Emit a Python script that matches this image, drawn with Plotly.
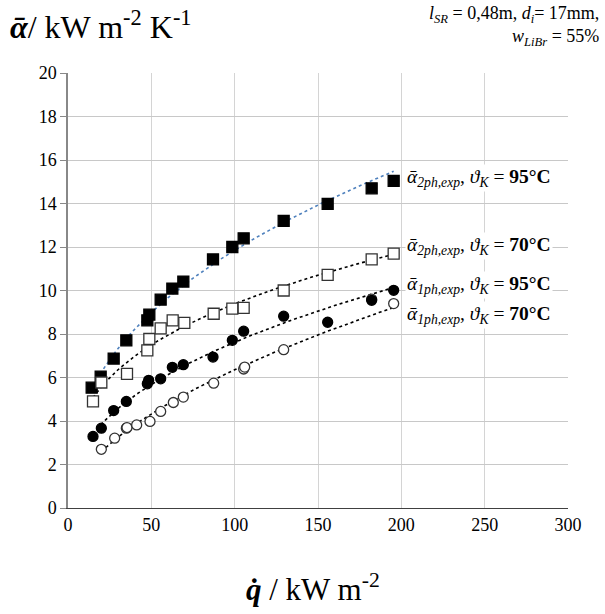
import numpy as np
import plotly.graph_objects as go

# Heat flux q / kW m-2 and mean heat transfer coefficient alpha / kW m-2 K-1
q_2ph_95 = [14.2, 19.6, 27.4, 35.0, 47.6, 48.8, 55.6, 62.6, 69.2, 87.0, 98.6, 105.4, 129.4, 155.8, 182.2, 195.4]
a_2ph_95 = [5.53, 6.04, 6.87, 7.71, 8.63, 8.89, 9.58, 10.09, 10.41, 11.43, 12.0, 12.4, 13.2, 13.98, 14.7, 15.04]

q_2ph_70 = [15.0, 20.0, 35.4, 47.6, 48.8, 55.6, 62.8, 69.8, 87.4, 98.6, 105.4, 129.4, 155.8, 182.2, 195.4]
a_2ph_70 = [4.9, 5.77, 6.17, 7.25, 7.77, 8.26, 8.63, 8.51, 8.93, 9.17, 9.2, 10.0, 10.72, 11.43, 11.7]

q_1ph_95 = [15.0, 20.0, 27.4, 35.0, 47.6, 48.4, 55.6, 62.6, 69.2, 87.0, 98.6, 105.4, 129.4, 155.8, 182.2, 195.4]
a_1ph_95 = [3.29, 3.67, 4.48, 4.9, 5.71, 5.87, 5.94, 6.47, 6.59, 6.94, 7.71, 8.13, 8.82, 8.54, 9.55, 10.01]

q_1ph_70 = [20.0, 28.0, 35.0, 35.4, 41.2, 49.2, 55.6, 63.2, 69.2, 87.4, 105.4, 106.0, 129.4, 182.2, 195.4]
a_1ph_70 = [2.7, 3.21, 3.67, 3.7, 3.82, 3.98, 4.44, 4.85, 5.1, 5.74, 6.39, 6.48, 7.28, 9.6, 9.4]

x_ticks = [0, 50, 100, 150, 200, 250, 300]
y_ticks = [0, 2, 4, 6, 8, 10, 12, 14, 16, 18, 20]

SERIF = "Liberation Serif"
BLUE = "#4f81bd"


def power_fit(q, a):
    """Least-squares power law a = c * q^n (log-log regression)."""
    n, lnc = np.polyfit(np.log(q), np.log(a), 1)
    qq = np.linspace(min(q), max(q), 120)
    return qq, np.exp(lnc) * qq ** n


fig = go.Figure()

series = [
    (q_1ph_70, a_1ph_70, "circle-open", "black"),
    (q_1ph_95, a_1ph_95, "circle", "black"),
    (q_2ph_95, a_2ph_95, "square", BLUE),
    (q_2ph_70, a_2ph_70, "square-open", "black"),
]

# dotted power-law trend lines
for q, a, sym, lc in series:
    qq, aa = power_fit(q, a)
    fig.add_trace(go.Scatter(x=qq, y=aa, mode="lines",
                             line=dict(color=lc, width=1.6, dash="dot"),
                             hoverinfo="skip", showlegend=False))

# measured points
for q, a, sym, lc in series:
    filled = not sym.endswith("open")
    fig.add_trace(go.Scatter(
        x=q, y=a, mode="markers", showlegend=False,
        marker=dict(
            symbol=sym.replace("-open", ""),
            size=11 if "square" in sym else 10,
            color="black" if filled else "white",
            line=dict(color="black" if filled else "#333333", width=1.3),
        )))

label_font = dict(family=SERIF, size=19.5, color="black")
labels = [
    (15.17, "<i>ᾱ</i><sub><i>2ph,exp</i></sub>, <i>ϑ</i><sub><i>K</i></sub> = <b>95°C</b>"),
    (12.05, "<i>ᾱ</i><sub><i>2ph,exp</i></sub>, <i>ϑ</i><sub><i>K</i></sub> = <b>70°C</b>"),
    (10.25, "<i>ᾱ</i><sub><i>1ph,exp</i></sub>, <i>ϑ</i><sub><i>K</i></sub> = <b>95°C</b>"),
    (8.87, "<i>ᾱ</i><sub><i>1ph,exp</i></sub>, <i>ϑ</i><sub><i>K</i></sub> = <b>70°C</b>"),
]
for yv, txt in labels:
    fig.add_annotation(x=202, y=yv, xref="x", yref="y", text=txt, showarrow=False,
                       xanchor="left", yanchor="middle", font=label_font,
                       bgcolor="white", borderpad=1)

# axis titles
fig.add_annotation(x=-0.12, y=1.11, xref="paper", yref="paper", showarrow=False,
                   xanchor="left", yanchor="middle",
                   text="<b><i>ᾱ</i></b>/ kW m<sup>-2</sup> K<sup>-1</sup>",
                   font=dict(family=SERIF, size=32, color="black"))
fig.add_annotation(x=0.49, y=-0.183, xref="paper", yref="paper", showarrow=False,
                   xanchor="center", yanchor="middle",
                   text="<b><i>q̇</i></b> / kW m<sup>-2</sup>",
                   font=dict(family=SERIF, size=31, color="black"))
fig.add_annotation(x=1.066, y=1.108, xref="paper", yref="paper", showarrow=False,
                   xanchor="right", yanchor="middle", align="right",
                   text="<i>l</i><sub><i>SR</i></sub> = 0,48m, <i>d</i><sub><i>i</i></sub>= 17mm,<br>"
                        "<i>w</i><sub><i>LiBr</i></sub> = 55%",
                   font=dict(family=SERIF, size=18, color="black"))

fig.update_layout(
    width=605, height=614,
    margin=dict(l=68, r=37, t=73, b=106),
    paper_bgcolor="white", plot_bgcolor="white",
    font=dict(family=SERIF, size=18, color="black"),
    xaxis=dict(range=[0, 300], tickvals=x_ticks, showgrid=True, gridcolor="#d4d4d4",
               gridwidth=1.2, zeroline=False, showline=True, linecolor="#404040",
               linewidth=1.2, ticks="", tickfont=dict(size=18)),
    yaxis=dict(range=[0, 20], tickvals=y_ticks, showgrid=True, gridcolor="#c8c8c8",
               gridwidth=1.2, zeroline=False, showline=True, linecolor="#888888",
               linewidth=1.5, ticks="outside", ticklen=6, tickcolor="#888888",
               tickfont=dict(size=18)),
)

fig.write_html("out.html")
